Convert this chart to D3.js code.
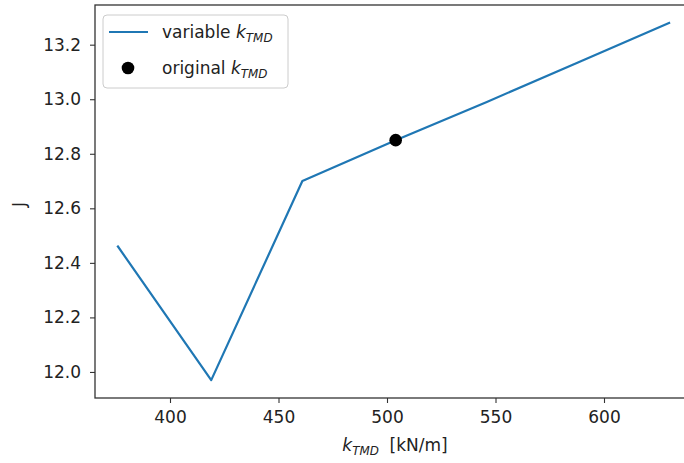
<!DOCTYPE html>
<html>
<head>
<meta charset="utf-8">
<script src="https://cdn.jsdelivr.net/npm/d3@7"></script>
<style>
  html, body { margin: 0; padding: 0; background: #fff; }
  svg { display: block; font-family: "DejaVu Sans", sans-serif; }
</style>
</head>
<body>
<svg id="chart" width="684" height="463"></svg>
<script>
// Stiffness of the tuned mass damper [kN/m] and resulting objective J
const kValues = [376, 419, 461, 504, 546, 588, 630];
const jValues = [12.46, 11.97, 12.70, 12.85, 12.99, 13.135, 13.28];
// Original design point
const kOriginal = [504];
const jOriginal = [12.85];
// Axis ticks
const xTicks = [400, 450, 500, 550, 600];
const yTicks = [12.0, 12.2, 12.4, 12.6, 12.8, 13.0, 13.2];

const svg = d3.select("#chart");
const plotLeft = 95, plotTop = 5, plotBottom = 398;

// 5% padding around the data, as in the usual plotting defaults
const xMin = d3.min(kValues), xMax = d3.max(kValues);
const yMin = d3.min(jValues), yMax = d3.max(jValues);
const xPad = (xMax - xMin) * 0.05, yPad = (yMax - yMin) * 0.05;

// Horizontal scale: 2.17 px per kN/m, left frame edge at plotLeft
const xPerUnit = 2.17;
const xLeftValue = 400 - (170 - plotLeft) / xPerUnit;
const xRightValue = xMax + xPad;
const x = d3.scaleLinear()
  .domain([xLeftValue, xRightValue])
  .range([plotLeft, plotLeft + (xRightValue - xLeftValue) * xPerUnit]);
const y = d3.scaleLinear()
  .domain([yMin - yPad, yMax + yPad])
  .range([plotBottom, plotTop]);

const plotRight = x.range()[1];

// Axes
const fontSize = 17;
const xAxis = svg.append("g")
  .attr("transform", `translate(0,${plotBottom})`)
  .call(d3.axisBottom(x).tickValues(xTicks).tickFormat(d3.format("d")).tickSize(5).tickPadding(8));
const yAxis = svg.append("g")
  .attr("transform", `translate(${plotLeft},0)`)
  .call(d3.axisLeft(y).tickValues(yTicks).tickFormat(d3.format(".1f")).tickSize(5).tickPadding(9));

[xAxis, yAxis].forEach(g => {
  g.select(".domain").remove();
  g.selectAll(".tick line").attr("stroke", "#333").attr("stroke-width", 1.1);
  g.selectAll(".tick text")
    .attr("fill", "#222")
    .style("font-size", fontSize + "px")
    .style("font-family", "'DejaVu Sans', sans-serif");
});

// Frame
svg.append("rect")
  .attr("x", plotLeft).attr("y", plotTop)
  .attr("width", plotRight - plotLeft).attr("height", plotBottom - plotTop)
  .attr("fill", "none").attr("stroke", "#333").attr("stroke-width", 1.3);

// Curve
const line = d3.line().x((d, i) => x(kValues[i])).y(d => y(d));
svg.append("path")
  .datum(jValues)
  .attr("d", line)
  .attr("fill", "none")
  .attr("stroke", "#1f77b4")
  .attr("stroke-width", 2.2)
  .attr("stroke-linejoin", "round")
  .attr("stroke-linecap", "square");

// Original point
svg.selectAll("circle.orig")
  .data(kOriginal)
  .join("circle")
  .attr("class", "orig")
  .attr("cx", d => x(d))
  .attr("cy", (d, i) => y(jOriginal[i]))
  .attr("r", 6.3)
  .attr("fill", "#000");

// Helper for "k_TMD" labels with italic k and italic subscript
function kLabel(textSel, prefix, size) {
  if (prefix) textSel.append("tspan").text(prefix);
  textSel.append("tspan").attr("font-style", "italic").text("k");
  textSel.append("tspan").attr("font-style", "italic")
    .attr("font-size", (size * 0.7) + "px").attr("dy", size * 0.22).text("TMD");
  return textSel;
}

// Axis labels
const xl = svg.append("text")
  .attr("x", 395)
  .attr("y", 451)
  .attr("text-anchor", "middle")
  .attr("fill", "#222")
  .style("font-size", fontSize + "px");
kLabel(xl, "", fontSize);
xl.append("tspan").attr("dy", -fontSize * 0.22).text("\u00a0\u00a0[kN/m]");

svg.append("text")
  .attr("transform", `translate(25,${(plotTop + plotBottom) / 2 + 3}) rotate(-90)`)
  .attr("text-anchor", "middle")
  .attr("fill", "#222")
  .style("font-size", fontSize + "px")
  .text("J");

// Legend
const lg = svg.append("g").attr("transform", "translate(103,15)");
lg.append("rect")
  .attr("width", 185).attr("height", 73)
  .attr("rx", 4).attr("ry", 4)
  .attr("fill", "#fff").attr("fill-opacity", 0.8)
  .attr("stroke", "#ccc").attr("stroke-width", 1);
lg.append("line")
  .attr("x1", 6).attr("x2", 45).attr("y1", 17).attr("y2", 17)
  .attr("stroke", "#1f77b4").attr("stroke-width", 2.2);
lg.append("circle").attr("cx", 25).attr("cy", 53).attr("r", 6.3).attr("fill", "#000");
const t1 = lg.append("text").attr("x", 59).attr("y", 23)
  .attr("fill", "#222").style("font-size", fontSize + "px");
kLabel(t1, "variable ", fontSize);
const t2 = lg.append("text").attr("x", 59).attr("y", 59)
  .attr("fill", "#222").style("font-size", fontSize + "px");
kLabel(t2, "original ", fontSize);
</script>
</body>
</html>
